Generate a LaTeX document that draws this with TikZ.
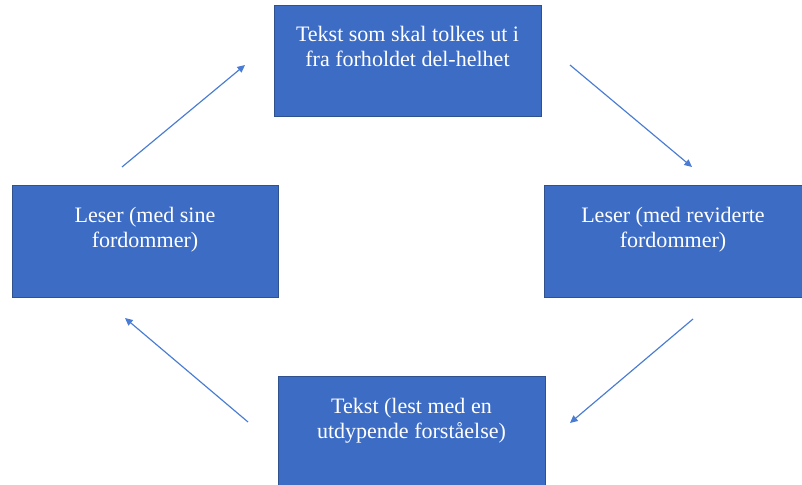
\documentclass[tikz,border=0pt]{standalone}
\usepackage{fontspec}
\setmainfont{Liberation Serif}
\usetikzlibrary{positioning, arrows.meta}
\definecolor{boxblue}{RGB}{61,108,197}
\definecolor{boxedge}{RGB}{47,82,143}
\definecolor{arrowblue}{RGB}{74,124,212}
\begin{document}
\begin{tikzpicture}[
        x = 0.03cm, y = -0.03cm,
        stage/.style = {draw = boxedge, line width = 0.5pt, fill = boxblue,
                        inner sep = 0pt, minimum width = 8.01cm, minimum height = 3.33cm},
        stagetext/.style = {text = white, align = center, inner sep = 0pt,
                            font = \fontsize{18.8}{21.8}\selectfont},
        flow/.style = {draw = arrowblue, line width = 1pt,
                       -{Triangle[length = 6.5pt, width = 6pt]}}
      ]
      \useasboundingbox (0, 0) rectangle (802, 485);
      % boxes
      \node[stage] (top)    at (407.5,  60.5) {};
      \node[stage, minimum width = 7.98cm, minimum height = 3.36cm] (left)  at (145, 241) {};
      \node[stage, minimum width = 7.74cm, minimum height = 3.36cm] (right) at (673, 241) {};
      \node[stage, minimum height = 3.27cm] (bottom) at (411.5, 430.5) {};
      % texts
      \node[stagetext, below = 0.63cm of top.north]    (topT)    {Tekst som skal tolkes ut i\\fra forholdet del-helhet};
      \node[stagetext, below = 0.66cm of left.north]   (leftT)   {Leser (med sine\\fordommer)};
      \node[stagetext, below = 0.66cm of right.north]  (rightT)  {Leser (med reviderte\\fordommer)};
      \node[stagetext, below = 0.66cm of bottom.north] (bottomT) {Tekst (lest med en\\utdypende forståelse)};
      % arrow ends
      \coordinate (ls) at (122, 167);
      \coordinate (le) at (245,  65);
      \coordinate (ts) at (570,  65);
      \coordinate (te) at (692, 167);
      \coordinate (rs) at (693, 319);
      \coordinate (re) at (570, 423);
      \coordinate (bs) at (248, 422);
      \coordinate (be) at (125, 318);
      % the cycle
      \draw[flow] (ls) -- (le);
      \draw[flow] (ts) -- (te);
      \draw[flow] (rs) -- (re);
      \draw[flow] (bs) -- (be);
    \end{tikzpicture}
\end{document}
